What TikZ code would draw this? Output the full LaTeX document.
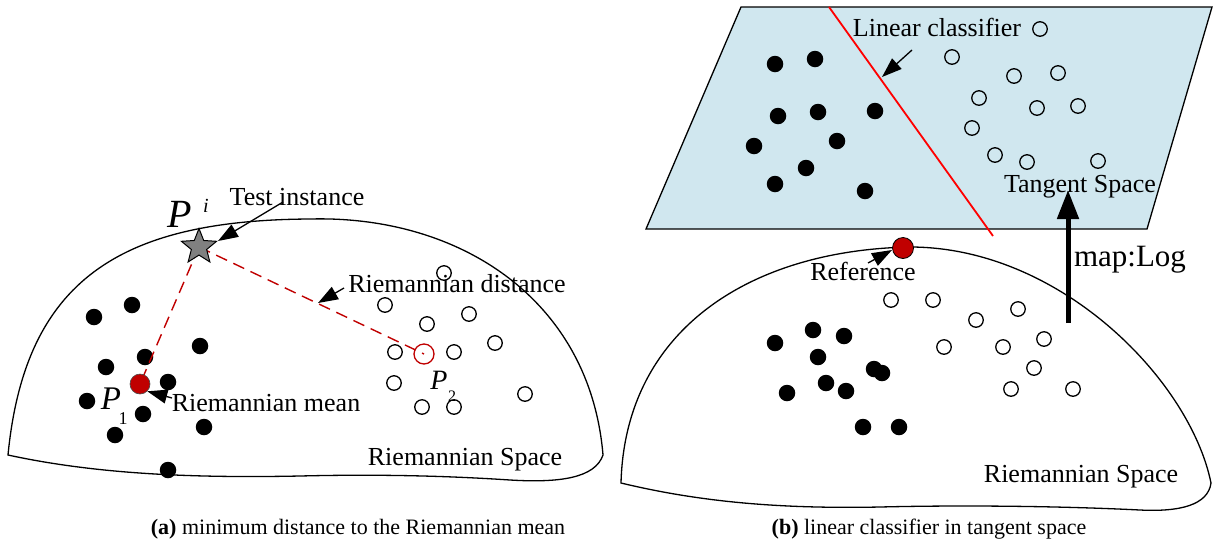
\documentclass[tikz,border=0pt]{standalone}
\usepackage{fontspec}
\setmainfont{Liberation Serif}
\usetikzlibrary{arrows.meta,shapes.geometric}
\definecolor{dred}{RGB}{192,0,0}
\definecolor{planefill}{RGB}{208,231,239}
\definecolor{clsred}{RGB}{255,0,0}
\begin{document}
\begin{tikzpicture}[x=1pt,y=-1pt,
  blob/.style={draw, line width=1.3pt},
  fdot/.style={circle, fill=black, inner sep=0pt, minimum size=16.5pt},
  odot/.style={circle, draw, line width=1.3pt, inner sep=0pt, minimum size=14.5pt},
  lbl/.style={font=\fontsize{26}{30}\selectfont, inner sep=0pt},
  caplbl/.style={font=\fontsize{22}{25}\selectfont, inner sep=0pt},
  callout/.style={-{Triangle[length=20pt,width=14pt]}, line width=1.3pt},
  rdash/.style={draw=dred, line width=1.4pt, dash pattern=on 12pt off 7pt}]
\useasboundingbox (0,0) rectangle (1214,547);

% ---------- (a) Riemannian space ----------
\draw[blob] (8,455) .. controls (25,280) and (120,220) .. (310,219)
  .. controls (460,215) and (590,300) .. (603,455)
  .. controls (595,478) and (560,483) .. (510,480)
  .. controls (450,476) and (380,474) .. (300,476)
  .. controls (200,478) and (100,475) .. (8,455) -- cycle;

% filled dots (class 1)
\foreach \n/\x/\y in {a1/94/317, a2/132/305, a3/200/346, a4/145/357, a5/106/367,
  a6/168/382, a7/87/401, a8/143/414, a9/115/435, a10/204/427, a11/168/470}
  \node[fdot] (\n) at (\x,\y) {};

% open dots (class 2)
\foreach \n/\x/\y in {b1/444/273, b2/385/305, b3/469/314, b4/427/324, b5/495/343,
  b6/395/352, b7/454/352, b8/394/383, b9/525/394, b10/422/407, b11/454/407}
  \node[odot] (\n) at (\x,\y) {};

% means and test instance
\node[circle, draw=dred, line width=1.3pt, inner sep=0pt, minimum size=20pt] (mean2) at (424,354) {};
\coordinate (testc) at (199,247);
\coordinate (mean1c) at (140,384);
\path[rdash] (testc) -- (mean2.center);
\path[rdash] (testc) -- (mean1c);
\node[star, star points=5, star point ratio=2.3, draw, fill=gray, line width=1pt,
  inner sep=0pt, minimum size=37pt] (test) at (testc) {};
\node[circle, fill=dred, draw=black!70, line width=0.6pt, inner sep=0pt, minimum size=20pt] (mean1) at (mean1c) {};

% labels
\node[inner sep=0pt, font=\fontsize{40}{44}\selectfont\itshape] (Pi) at (180,214) {P};
\node[inner sep=0pt, font=\fontsize{20}{22}\selectfont\itshape] (Pisup) at (206,206) {i};
\node[inner sep=0pt, font=\fontsize{33}{36}\selectfont\itshape] (P1) at (111,399) {P};
\node[inner sep=0pt, font=\fontsize{18}{20}\selectfont] (P1sub) at (123,419) {1};
\node[inner sep=0pt, font=\fontsize{28}{30}\selectfont\itshape] (P2) at (439,380) {P};
\node[inner sep=0pt, font=\fontsize{16}{18}\selectfont] (P2sub) at (452,396) {2};

\node[lbl] (ltest) at (297,197) {Test instance};
\node[lbl] (ldist) at (457,284) {Riemannian distance};
\node[lbl] (lmean) at (266,403) {Riemannian mean};
\node[lbl] (lspaceA) at (465,460) {Riemannian Space};

\coordinate (testtip) at (218,241);
\coordinate (teststart) at (283,202);
\coordinate (disttip) at (318,303);
\coordinate (diststart) at (344,288);
\coordinate (meanstart) at (172,398);
\draw[callout] (teststart) -- (testtip);
\draw[callout] (diststart) -- (disttip);
\draw[callout] (meanstart) -- (mean1.south east);

\node[caplbl] (capA) at (358,529) {\textbf{(a)} minimum distance to the Riemannian mean};

% ---------- (b) tangent space ----------
\draw[fill=planefill, line width=1.3pt] (741,7) -- (1212,7) -- (1147,229) -- (646,229) -- cycle;
\coordinate (cls1) at (829,7);
\coordinate (cls2) at (993,236);
\draw[draw=clsred, line width=1.8pt] (cls1) -- (cls2);

\foreach \n/\x/\y in {c1/775/64, c2/815/59, c3/778/116, c4/818/112, c5/875/111,
  c6/754/146, c7/837/141, c8/806/168, c9/775/184, c10/865/191}
  \node[fdot] (\n) at (\x,\y) {};
\foreach \n/\x/\y in {e1/1040/29, e2/952/57, e3/1014/76, e4/1058/73, e5/979/98,
  e6/1037/108, e7/1078/106, e8/972/128, e9/995/155, e10/1027/162, e11/1098/161}
  \node[odot] (\n) at (\x,\y) {};

\node[lbl] (llin) at (937,27) {Linear classifier};
\node[lbl] (ltan) at (1080,187) {Tangent Space};
\coordinate (linstart) at (912,50);
\coordinate (lintip) at (882,77);
\draw[callout] (linstart) -- (lintip);

% Riemannian space (b)
\draw[blob] (621,483) .. controls (625,330) and (750,250) .. (910,247)
  .. controls (1060,247) and (1190,380) .. (1211,483)
  .. controls (1208,505) and (1180,512) .. (1140,510)
  .. controls (1060,506) and (960,505) .. (880,507)
  .. controls (780,509) and (700,502) .. (621,483) -- cycle;

\foreach \n/\x/\y in {f1/775/343, f2/813/330, f3/844/336, f4/818/357, f5/874/369,
  f6/882/373, f7/826/383, f8/787/393, f9/846/391, f10/863/427, f11/899/427}
  \node[fdot] (\n) at (\x,\y) {};
\foreach \n/\x/\y in {g1/891/300, g2/933/300, g3/976/320, g4/1018/309, g5/1044/339,
  g6/944/347, g7/1003/347, g8/1034/368, g9/1011/389, g10/1073/389}
  \node[odot] (\n) at (\x,\y) {};

\node[lbl] (lref) at (863,271) {Reference};
\coordinate (refstart) at (868,263);
\draw[callout] (refstart) -- (892,250);
\node[circle, fill=dred, draw=black, line width=0.8pt, inner sep=0pt, minimum size=21pt] (refdot) at (903,248) {};

\node[lbl] (lspaceB) at (1081,477) {Riemannian Space};

\coordinate (logstart) at (1068,323);
\coordinate (logend) at (1068,190);
\draw[-{Triangle[length=29pt,width=21pt]}, line width=5pt] (logstart) -- (logend);
\node[inner sep=0pt, font=\fontsize{31}{34}\selectfont] (lmap) at (1130,260) {map:Log};

\node[caplbl] (capB) at (929,529) {\textbf{(b)} linear classifier in tangent space};
\end{tikzpicture}
\end{document}
